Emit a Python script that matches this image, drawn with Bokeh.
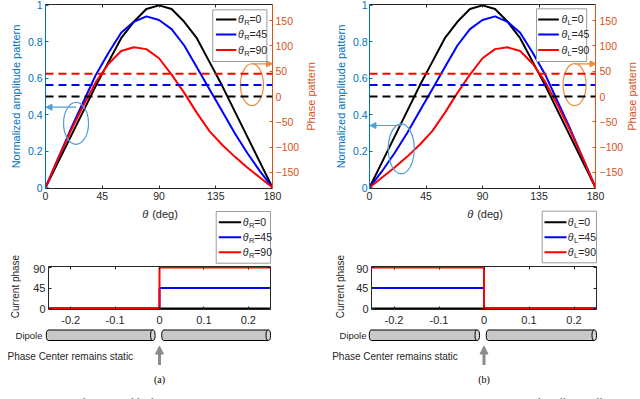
import math
from bokeh.plotting import figure
from bokeh.models import (Range1d, LinearAxis, FixedTicker, Label, BoxAnnotation,
                          Arrow, NormalHead, Span)
from bokeh.layouts import column, row
from bokeh.embed import file_html
from bokeh.resources import INLINE

# ---------------- data ----------------
theta = [0, 10, 20, 30, 40, 50, 60, 70, 80, 90, 100, 110, 120, 130, 140, 150, 160, 170, 180]
amp_R0 = [0, 0.14, 0.28, 0.42, 0.56, 0.69, 0.82, 0.91, 0.98, 1.00, 0.98, 0.91, 0.82, 0.69, 0.56, 0.42, 0.28, 0.14, 0]
amp_R45 = [0, 0.16, 0.32, 0.47, 0.62, 0.74, 0.85, 0.91, 0.94, 0.92, 0.87, 0.78, 0.66, 0.54, 0.42, 0.30, 0.19, 0.09, 0]
amp_R90 = [0, 0.16, 0.31, 0.45, 0.58, 0.68, 0.75, 0.77, 0.76, 0.71, 0.62, 0.52, 0.41, 0.31, 0.235, 0.17, 0.11, 0.055, 0]
amp_L0 = [0, 0.14, 0.28, 0.42, 0.56, 0.69, 0.82, 0.91, 0.98, 1.00, 0.98, 0.91, 0.82, 0.69, 0.56, 0.42, 0.28, 0.14, 0]
amp_L45 = [0, 0.09, 0.19, 0.30, 0.42, 0.54, 0.66, 0.78, 0.87, 0.92, 0.94, 0.91, 0.85, 0.74, 0.62, 0.47, 0.32, 0.16, 0]
amp_L90 = [0, 0.055, 0.11, 0.17, 0.235, 0.31, 0.41, 0.52, 0.62, 0.71, 0.76, 0.77, 0.75, 0.68, 0.58, 0.45, 0.31, 0.16, 0]
beam_phase = [0, 22.5, 45]          # phase pattern (deg), dashed lines
steer = [0, 45, 90]                  # current phase on the fed half (deg)
steer_labels = ["0", "45", "90"]
colors = ["#000000", "#0000FF", "#FF0000"]
theta_ticks = [0, 45, 90, 135, 180]
amp_ticks = [0, 0.2, 0.4, 0.6, 0.8, 1]
phase_ticks = [-150, -100, -50, 0, 50, 100, 150]
pos_ticks = [-0.2, -0.1, 0, 0.1, 0.2]
cur_ticks = [0, 45, 90]
feed_pos = [-0.25, 0, 0, 0.25]       # positions along the dipole for the step
feed_point = 0.0
dipole_arms = [(-0.25, -0.015), (0.01, 0.245)]
caption = ("Fig. 2:  Illustration of behavior of far-field radiation pattern and phase in main beam "
           "with respect to the dipole current level and phase for different differential phase of the two arms")

SANS = "Liberation Sans"
SERIF = "Liberation Serif"
DARK = "#262626"
AX_BLUE = "#0072BD"
AX_ORANGE = "#D95319"
ELL_BLUE = "#4F9FD8"
ELL_ORANGE = "#EC8A3B"
LEG_EDGE = "#9b9b9b"
CYL = "#c8c8c8"
ARROW_GRAY = "#8c8c8c"


def conv(fl, fr, ft, fb, xr, yr):
    def cx(px):
        return xr[0] + (px - fl) / (fr - fl) * (xr[1] - xr[0])

    def cy(py):
        return yr[0] + (fb - py) / (fb - ft) * (yr[1] - yr[0])
    return cx, cy


def bare_fig(W, H, xr, yr, bt=0, bb=0):
    p = figure(width=W, height=H, x_range=Range1d(*xr), y_range=Range1d(*yr),
               x_axis_type=None, y_axis_type=None, output_backend="svg",
               toolbar_location=None, min_border_left=0, min_border_right=0,
               min_border_top=bt, min_border_bottom=bb)
    p.outline_line_color = None
    p.grid.visible = False
    return p


def style_axis(ax, color, tick_fs, standoff, label=None, label_fs="11px", label_standoff=3):
    ax.axis_line_color = color
    ax.axis_line_width = 1
    ax.major_tick_line_color = color
    ax.major_tick_in = 3
    ax.major_tick_out = 0
    ax.minor_tick_in = 0
    ax.minor_tick_out = 0
    ax.major_label_text_color = color
    ax.major_label_text_font = SANS
    ax.major_label_text_font_size = tick_fs
    ax.major_label_standoff = standoff
    if label is not None:
        ax.axis_label = label
        ax.axis_label_text_font = SANS
        ax.axis_label_text_font_size = label_fs
        ax.axis_label_text_font_style = "normal"
        ax.axis_label_text_color = color
        ax.axis_label_standoff = label_standoff


def blank_axis(ax, color, ticks):
    style_axis(ax, color, "1px", 0)
    ax.major_label_overrides = {t: "" for t in ticks}


def add_legend(p, cx, cy, box, lx, tx, ys, sub, sub_w, fs="10.5px"):
    l, r, t, b = box
    p.add_layout(BoxAnnotation(left=cx(l), right=cx(r), top=cy(t), bottom=cy(b),
                               fill_color="white", fill_alpha=1.0, line_color=LEG_EDGE,
                               line_width=1, line_alpha=1.0))
    for yv, lab, c in zip(ys, steer_labels, colors):
        p.add_layout(Arrow(end=None, x_start=cx(lx[0]), y_start=cy(yv), x_end=cx(lx[1]),
                           y_end=cy(yv), line_color=c, line_width=2))
        p.add_layout(Label(x=cx(tx), y=cy(yv - 0.5), text="θ", text_font=SANS,
                           text_font_style="italic", text_font_size=fs,
                           text_baseline="middle", text_color=DARK))
        p.add_layout(Label(x=cx(tx + 6.2), y=cy(yv + 3), text=sub, text_font=SANS,
                           text_font_size="7.5px", text_baseline="middle", text_color=DARK))
        p.add_layout(Label(x=cx(tx + 6.2 + sub_w), y=cy(yv - 0.5), text="=" + lab,
                           text_font=SANS, text_font_size=fs, text_baseline="middle",
                           text_color=DARK))


def top_fig(off, W, fl, fr, amps, sub, sub_w, ann, leg):
    H, ft, fb = 205, 4, 188
    xr, yr = (0, 180), (-0.005, 1.005)
    p = figure(width=W, height=H, x_range=Range1d(*xr), y_range=Range1d(*yr),
               x_axis_type=None, y_axis_type=None, output_backend="svg",
               toolbar_location=None, min_border_left=fl - off,
               min_border_right=off + W - fr, min_border_top=ft, min_border_bottom=H - fb)
    p.outline_line_color = None
    p.grid.visible = False
    p.extra_y_ranges = {"phase": Range1d(-181.8, 181.8)}
    cx, cy = conv(fl, fr, ft, fb, xr, yr)

    left = LinearAxis(ticker=FixedTicker(ticks=amp_ticks))
    style_axis(left, AX_BLUE, "10.5px", ann["lstand"], "Normalized amplitude pattern", "11px",
               ann["llab"])
    left.major_label_overrides = {t: ("%g" % t) for t in amp_ticks}
    p.add_layout(left, "left")

    right = LinearAxis(y_range_name="phase", ticker=FixedTicker(ticks=phase_ticks))
    style_axis(right, AX_ORANGE, "10.5px", ann["rstand"])
    p.add_layout(right, "right")

    below = LinearAxis(ticker=FixedTicker(ticks=theta_ticks))
    style_axis(below, DARK, "10.5px", 3)
    p.add_layout(below, "below")
    above = LinearAxis(ticker=FixedTicker(ticks=theta_ticks))
    blank_axis(above, DARK, theta_ticks)
    p.add_layout(above, "above")

    for a, c in zip(amps, colors):
        p.line(theta, a, line_color=c, line_width=2)
    for ph, c in zip(beam_phase, colors):
        p.add_layout(Span(location=ph, dimension="width", y_range_name="phase",
                          line_color=c, line_width=2, line_dash="8 5"))

    (bx, by, bw, bh, bay, bax0, bax1) = ann["blue"]
    p.ellipse(x=[cx(bx)], y=[cy(by)], width=bw, height=bh, width_units="screen",
              height_units="screen", fill_color=None, line_color=ELL_BLUE, line_width=1.2)
    p.add_layout(Arrow(x_start=cx(bax0), y_start=cy(bay), x_end=cx(bax1), y_end=cy(bay),
                       end=NormalHead(size=6, fill_color=ELL_BLUE, line_color=ELL_BLUE),
                       line_color=ELL_BLUE, line_width=1.2))
    (ox, oy, ow, oh, oay, oax0, oax1) = ann["orange"]
    p.ellipse(x=[cx(ox)], y=[cy(oy)], width=ow, height=oh, width_units="screen",
              height_units="screen", fill_color=None, line_color=ELL_ORANGE, line_width=1.2)
    p.add_layout(Arrow(x_start=cx(oax0), y_start=cy(oay), x_end=cx(oax1), y_end=cy(oay),
                       end=NormalHead(size=6, fill_color=ELL_ORANGE, line_color=ELL_ORANGE),
                       line_color=ELL_ORANGE, line_width=1.2))

    add_legend(p, cx, cy, leg["box"], leg["lx"], leg["tx"], leg["ys"], sub, sub_w)
    return p


def side_label_fig(x0, x1, y0, y1, ft, fb, text, lx, ly, color, fs):
    # narrow panel holding a vertical axis title (reads bottom to top)
    W, H = x1 - x0, y1 - y0
    xr, yr = (x0, x1), (0, 1)
    p = bare_fig(W, H, xr, yr, bt=ft - y0, bb=y1 - fb)
    cx, cy = conv(x0, x1, ft, fb, xr, yr)
    p.add_layout(Label(x=cx(lx), y=cy(ly), text=text, angle=math.pi / 2, text_font=SANS,
                       text_font_size=fs, text_align="center", text_baseline="middle",
                       text_color=color))
    return p


def strip_fig(x0, x1, sub, sub_w, leg, theta_lab_x):
    # band between the pattern plot and the current-phase plot
    W, H, top = x1 - x0, 59, 205
    xr, yr = (x0, x1), (0, H)
    p = bare_fig(W, H, xr, yr)
    cx, cy = conv(x0, x1, top, top + H, xr, yr)
    p.add_layout(Label(x=cx(theta_lab_x), y=cy(213.5), text="θ", text_font=SANS,
                       text_font_style="italic", text_font_size="11px",
                       text_baseline="middle", text_color=DARK))
    p.add_layout(Label(x=cx(theta_lab_x + 10), y=cy(213.5), text="(deg)", text_font=SANS,
                       text_font_size="11px", text_baseline="middle", text_color=DARK))
    add_legend(p, cx, cy, leg["box"], leg["lx"], leg["tx"], leg["ys"], sub, sub_w)
    return p


def bottom_fig(x0, x1, fl, fr, ylists, lstand):
    W, H, top = x1 - x0, 64, 264
    ft, fb = 266, 309
    xr, yr = (-0.25, 0.25), (-2, 92)
    p = figure(width=W, height=H, x_range=Range1d(*xr), y_range=Range1d(*yr),
               x_axis_type=None, y_axis_type=None, output_backend="svg",
               toolbar_location=None, min_border_left=fl - x0,
               min_border_right=x1 - fr, min_border_top=ft - top,
               min_border_bottom=top + H - fb)
    p.outline_line_color = None
    p.grid.visible = False

    left = LinearAxis(ticker=FixedTicker(ticks=cur_ticks))
    style_axis(left, DARK, "11px", lstand)
    p.add_layout(left, "left")
    below = LinearAxis(ticker=FixedTicker(ticks=pos_ticks))
    style_axis(below, DARK, "11px", 6)
    below.major_label_overrides = {t: ("%g" % t) for t in pos_ticks}
    p.add_layout(below, "below")
    above = LinearAxis(ticker=FixedTicker(ticks=pos_ticks))
    blank_axis(above, DARK, pos_ticks)
    p.add_layout(above, "above")
    right = LinearAxis(ticker=FixedTicker(ticks=cur_ticks))
    blank_axis(right, DARK, cur_ticks)
    p.add_layout(right, "right")

    for ys, c in zip(ylists, colors):
        p.line(feed_pos, ys, line_color=c, line_width=2)
    return p


def dipole_fig(off, zero_px, scale, tag, dip_right, pc_left):
    W, H, top = 320, 58, 328
    xr = ((off - zero_px) / scale, (off + W - zero_px) / scale)
    yr = (0, H)
    p = bare_fig(W, H, xr, yr)
    cx, cy = conv(off, off + W, top, top + H, xr, yr)
    yt, yb = cy(329.5), cy(340)
    yc = (yt + yb) / 2
    for a, b in dipole_arms:
        p.ellipse(x=[a], y=[yc], width=4.5, height=yt - yb, width_units="screen",
                  fill_color=CYL, line_color="black", line_width=1)
        p.quad(left=[a], right=[b], top=[yt], bottom=[yb], fill_color=CYL, line_color=None)
        p.segment(x0=[a, a], y0=[yt, yb], x1=[b, b], y1=[yt, yb], line_color="black",
                  line_width=1)
        p.ellipse(x=[b], y=[yc], width=4.5, height=yt - yb, width_units="screen",
                  fill_color="#d6d6d6", line_color="black", line_width=1)
    p.add_layout(Arrow(x_start=feed_point, y_start=cy(364.5), x_end=feed_point, y_end=cy(345.5),
                       end=NormalHead(size=8, fill_color=ARROW_GRAY, line_color=ARROW_GRAY),
                       line_color=ARROW_GRAY, line_width=3))
    p.add_layout(Label(x=cx(dip_right), y=cy(335), text="Dipole", text_font=SANS,
                       text_font_size="9.5px", text_align="right", text_baseline="middle",
                       text_color=DARK))
    p.add_layout(Label(x=cx(pc_left), y=cy(356), text="Phase Center remains static",
                       text_font=SANS, text_font_size="10px", text_baseline="middle",
                       text_color=DARK))
    p.add_layout(Label(x=feed_point, y=cy(379), text=tag, text_font=SERIF,
                       text_font_size="10px", text_align="center", text_baseline="middle",
                       text_color="black"))
    return p


# ---------------- top row: amplitude / phase patterns ----------------
A_L = top_fig(0, 302, 45, 274, [amp_R0, amp_R45, amp_R90], "R", 5.2,
              dict(lstand=3, llab=3, rstand=3,
                   blue=(75.8, 122.8, 25, 42, 106.7, 76, 45.5),
                   orange=(253.3, 84.2, 23, 42, 63.3, 253.3, 274)),
              dict(box=(213.7, 268.3, 9.3, 61), lx=(217, 237.5), tx=239.3, ys=(19, 34, 49.5)))
P_L = side_label_fig(302, 320, 0, 205, 4, 188, "Phase pattern", 310, 96, AX_ORANGE, "11px")
A_R = top_fig(320, 306, 369, 599, [amp_L0, amp_L45, amp_L90], "L", 4.2,
              dict(lstand=2, llab=3, rstand=4,
                   blue=(401.3, 148.3, 26, 50, 125, 401.7, 369.5),
                   orange=(577.7, 84.2, 23, 42, 63.3, 578.3, 599.5)),
              dict(box=(539, 590, 8.3, 61), lx=(540.7, 561.7), tx=564.3, ys=(19, 34, 49.5)))
P_R = side_label_fig(626, 640, 0, 205, 4, 188, "Phase pattern", 631.7, 96, AX_ORANGE, "11px")

# ---------------- middle row: current phase along the dipole ----------------
Q_L = side_label_fig(0, 24, 205, 328, 205, 328, "Current phase", 15, 286, DARK, "10px")
S_L = strip_fig(24, 320, "R", 5.2, dict(box=(215.7, 270, 211, 262.7), lx=(218.3, 240.7),
                                        tx=242.3, ys=(221.7, 236.7, 251.7)), 141.7)
B_L = bottom_fig(24, 320, 48, 270, [[0, 0, v, v] for v in steer], 3)
Q_R = side_label_fig(320, 347, 205, 328, 205, 328, "Current phase", 340, 286, DARK, "10px")
S_R = strip_fig(347, 640, "L", 4.2, dict(box=(541.7, 596, 210.7, 262.3), lx=(544, 566),
                                         tx=567.3, ys=(221.7, 236.7, 251.7)), 466.7)
B_R = bottom_fig(347, 640, 371, 596, [[v, v, 0, 0] for v in steer], 3)

# ---------------- dipole sketches ----------------
C_L = dipole_fig(0, 159, 444, "(a)", 42, 7)
C_R = dipole_fig(320, 483.5, 450, "(b)", 366, 331.7)

# ---------------- caption strip ----------------
cap = bare_fig(640, 13, (0, 640), (0, 13))
cap.add_layout(Label(x=1, y=3, text=caption, text_font=SERIF, text_font_size="10px",
                     text_baseline="top", text_color="black"))

layout = column(
    row(A_L, P_L, A_R, P_R),
    row(Q_L, column(row(S_L), row(B_L)), Q_R, column(row(S_R), row(B_R))),
    row(C_L, C_R),
    cap,
)

open("out.html", "w").write(file_html(layout, INLINE))
